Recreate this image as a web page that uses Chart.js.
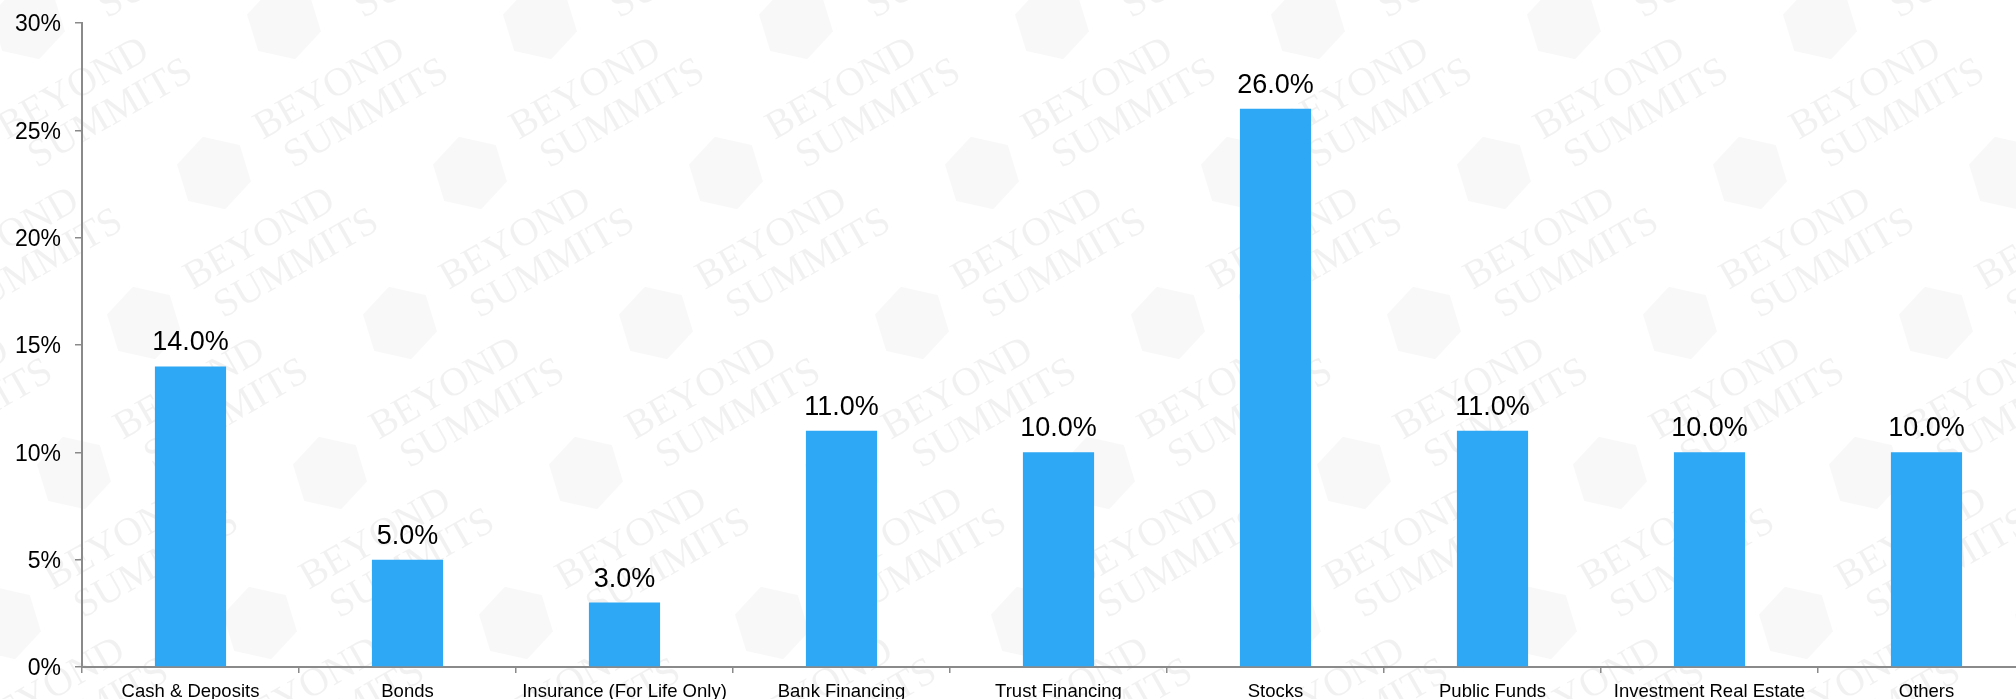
<!DOCTYPE html>
<html>
<head>
<meta charset="utf-8">
<script src="https://cdn.jsdelivr.net/npm/chart.js@4"></script>
<style>
  html, body { margin: 0; padding: 0; background: #fff; overflow: hidden; }
  #wrap { width: 2040px; height: 715px; }
</style>
</head>
<body>
<div id="wrap"><canvas id="allocChart" width="2040" height="715"></canvas></div>
<script>
// 資產配置比例
const categories = [
    'Cash & Deposits', 'Bonds', 'Insurance (For Life Only)', 'Bank Financing',
    'Trust Financing', 'Stocks', 'Public Funds', 'Investment Real Estate', 'Others'
];
const shares = [14.0, 5.0, 3.0, 11.0, 10.0, 26.0, 11.0, 10.0, 10.0];
const yTicks = [0, 5, 10, 15, 20, 25, 30];

const AXIS_GRAY = '#8a8a8a';
const BAR_BLUE = '#2ea7f4';
const FONT = '"Liberation Sans", Arial, sans-serif';

// 背景浮水印（淡灰色六角標誌 + 文字）
const watermark = {
    id: 'watermark',
    beforeDraw(chart) {
        const ctx = chart.ctx;
        ctx.save();
        ctx.fillStyle = '#fff';
        ctx.fillRect(0, 0, chart.width, chart.height);
        for (let j = -3; j < 8; j++) {
            for (let i = -2; i < 11; i++) {
                const x = 540 + i * 256 - j * 70;
                const y = 23 + j * 150;
                if (x < -200 || x > chart.width + 200) continue;
                // 六角標誌
                ctx.fillStyle = 'rgba(0,0,0,0.028)';
                ctx.beginPath();
                for (let k = 0; k < 6; k++) {
                    const a = Math.PI / 6 + k * Math.PI / 3 - 0.3;
                    const px = x + 38 * Math.cos(a), py = y + 38 * Math.sin(a);
                    k ? ctx.lineTo(px, py) : ctx.moveTo(px, py);
                }
                ctx.closePath();
                ctx.fill();
                // 文字
                ctx.save();
                ctx.translate(x + 40, y - 28);
                ctx.rotate(-0.52);
                ctx.fillStyle = 'rgba(0,0,0,0.055)';
                ctx.font = '40px "Liberation Serif", serif';
                ctx.textBaseline = 'alphabetic';
                ctx.fillText('BEYOND', 10, 0);
                ctx.fillText('SUMMITS', 22, 40);
                ctx.restore();
            }
        }
        ctx.restore();
    }
};

// 長條上方的百分比標籤
const barValueLabels = {
    id: 'barValueLabels',
    afterDatasetsDraw(chart) {
        const ctx = chart.ctx;
        const meta = chart.getDatasetMeta(0);
        ctx.save();
        ctx.fillStyle = '#000';
        ctx.font = '27px ' + FONT;
        ctx.textAlign = 'center';
        ctx.textBaseline = 'alphabetic';
        meta.data.forEach((bar, i) => {
            ctx.fillText(shares[i].toFixed(1) + '%', bar.x, bar.y - 16);
        });
        ctx.restore();
    }
};

new Chart(document.getElementById('allocChart'), {
    type: 'bar',
    data: {
        labels: categories,
        datasets: [{
            data: shares,
            backgroundColor: BAR_BLUE,
            borderWidth: 0,
            barPercentage: 0.328,
            categoryPercentage: 1.0
        }]
    },
    options: {
        responsive: false,
        animation: false,
        events: [],
        layout: { padding: { left: 14, right: 5, top: 23, bottom: 0 } },
        plugins: {
            legend: { display: false },
            tooltip: { enabled: false }
        },
        scales: {
            x: {
                grid: {
                    offset: true,
                    drawOnChartArea: false,
                    drawTicks: true,
                    tickLength: 6,
                    color: AXIS_GRAY,
                    lineWidth: 1.5
                },
                border: { color: AXIS_GRAY, width: 2 },
                ticks: {
                    color: '#000',
                    font: { family: FONT, size: 18.5 },
                    padding: 8,
                    maxRotation: 0,
                    autoSkip: false
                },
                afterFit(scale) { scale.height = 48; }
            },
            y: {
                min: 0,
                max: 30,
                afterBuildTicks(scale) {
                    scale.ticks = yTicks.map(v => ({ value: v }));
                },
                grid: {
                    drawOnChartArea: false,
                    drawTicks: true,
                    tickLength: 7,
                    color: AXIS_GRAY,
                    lineWidth: 1.5
                },
                border: { color: AXIS_GRAY, width: 2 },
                ticks: {
                    color: '#000',
                    font: { family: FONT, size: 23, lineHeight: 0.6 },
                    padding: 14,
                    labelOffset: 2,
                    callback: v => v + '%'
                },
                afterFit(scale) { scale.width = 68; }
            }
        }
    },
    plugins: [watermark, barValueLabels]
});
</script>
</body>
</html>
